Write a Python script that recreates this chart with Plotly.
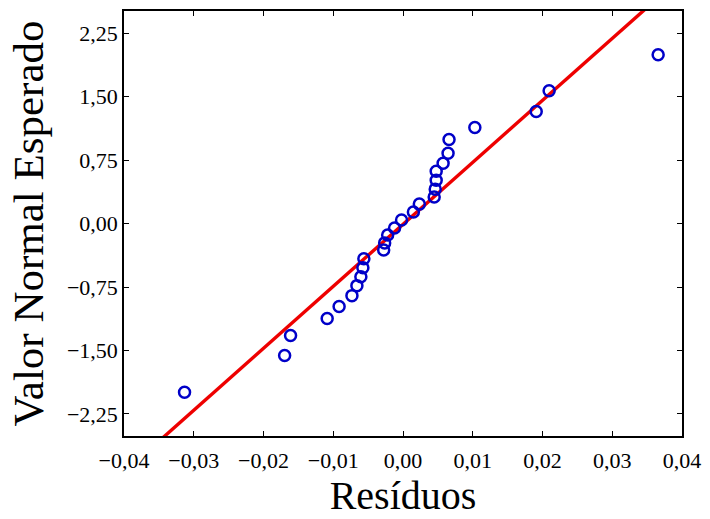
import numpy as np
import plotly.graph_objects as go

# Residuals (x) and expected normal values (y)
residuos = [-0.03132, -0.01697, -0.01612, -0.01087, -0.00916, -0.00732, -0.00661,
            -0.00604, -0.00575, -0.00561, -0.00277, -0.00263, -0.00220, -0.00121,
            -0.00021, 0.00149, 0.00234, 0.00447, 0.00462, 0.00476, 0.00476,
            0.00575, 0.00646, 0.00660, 0.01030, 0.01910, 0.02095, 0.03658]
valor_normal = [-1.993, -1.558, -1.322, -1.122, -0.981, -0.852, -0.734,
                -0.629, -0.523, -0.417, -0.312, -0.229, -0.135, -0.053,
                0.041, 0.135, 0.229, 0.312, 0.406, 0.511, 0.617,
                0.711, 0.829, 0.993, 1.134, 1.322, 1.569, 1.993]

# Reference line y = slope * x + intercept
line_slope = 73.2
line_intercept = -0.01

x_ticks = [-0.04, -0.03, -0.02, -0.01, 0.0, 0.01, 0.02, 0.03, 0.04]
y_ticks = [-2.25, -1.50, -0.75, 0.0, 0.75, 1.50, 2.25]

x_range = [-0.04, 0.04]
y_range = [-2.51, 2.51]

line_x = np.array([-0.045, 0.045])
line_y = line_slope * line_x + line_intercept

fig = go.Figure()
fig.add_trace(go.Scatter(
    x=line_x, y=line_y, mode="lines",
    line=dict(color="#ee0000", width=3.4),
    hoverinfo="skip", showlegend=False,
))
fig.add_trace(go.Scatter(
    x=residuos, y=valor_normal, mode="markers",
    marker=dict(symbol="circle-open", size=11, color="#0000c8",
                line=dict(width=2.5, color="#0000c8")),
    showlegend=False,
))

font_family = "Liberation Serif"

fig.update_layout(
    width=710, height=519,
    margin=dict(l=124, r=23, t=9, b=83),
    paper_bgcolor="white", plot_bgcolor="white",
    separators=",.",
    font=dict(family=font_family, color="black"),
    showlegend=False,
)
fig.update_xaxes(
    range=x_range, tickvals=x_ticks, tickformat=".2f",
    showgrid=False, zeroline=False,
    showline=True, linecolor="black", linewidth=1.5, mirror="ticks",
    ticks="inside", ticklen=5, tickwidth=1, tickcolor="black",
    tickfont=dict(size=22, family=font_family, color="black"),
    ticklabelstandoff=4,
    title=dict(text="Resíduos", font=dict(size=40, family=font_family, color="black"),
               standoff=8),
)
fig.update_yaxes(
    range=y_range, tickvals=y_ticks, tickformat=".2f",
    showgrid=False, zeroline=False,
    showline=True, linecolor="black", linewidth=1.5, mirror="ticks",
    ticks="inside", ticklen=5, tickwidth=1, tickcolor="black",
    tickfont=dict(size=22, family=font_family, color="black"),
    title=dict(text="Valor Normal Esperado", font=dict(size=43, family=font_family, color="black"),
               standoff=10),
)

fig.write_html("out.html")
